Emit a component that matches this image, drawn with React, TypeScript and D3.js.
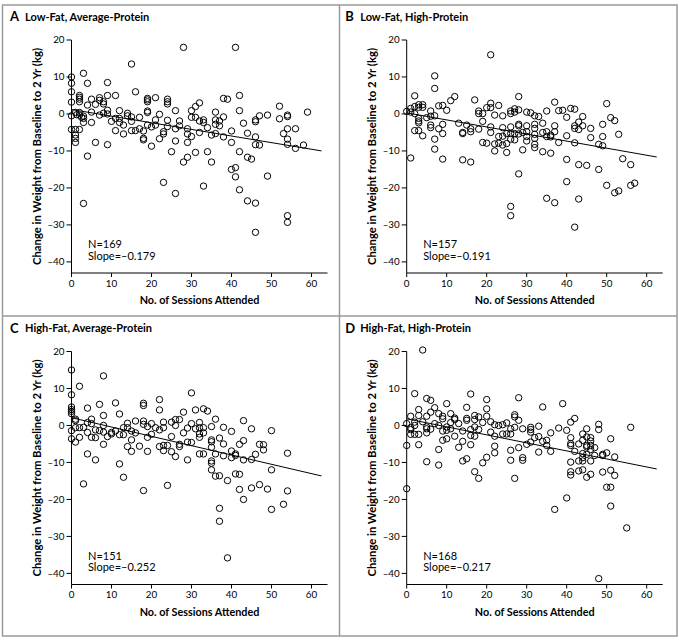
import React from "react";
import * as d3 from "d3";

// ---------- data ----------
const panelLetters = ["A", "B", "C", "D"];
const panelTitles = [
  "Low-Fat, Average-Protein",
  "Low-Fat, High-Protein",
  "High-Fat, Average-Protein",
  "High-Fat, High-Protein",
];
const panelN = [169, 157, 151, 168];
const panelSlopes = [-0.179, -0.191, -0.252, -0.217];
const panelIntercepts = [1.2, 0.3, 2.1, 1.8];
const xTicks = [0, 10, 20, 30, 40, 50, 60];
const yTicks = [20, 10, 0, -10, -20, -30, -40];

const pointsA: [number, number][] = [
  [28,18],[15,13.5],[0,10],[3,11],[0,8.3],[0,6],[4,8.3],[9,8.5],[2,5],[2,4.5],[2,4],[2,3.3],[16,6],[11,5],[5,4],[7,4.4],[7,3.7],[8,3.3],[8,2.7],[9,5],[6,2.6],[0,3.2],[19,4.2],[19,3.8],[19,3.3],[21,4.4],[24,4],[24,3.3],[24,2.7],[19,0.8],[19,0.4],[26,0.9],[30,0.9],[30,-0.9],[0,-0.5],[1,0.4],[1.3,-0.2],[2,0.4],[2,-0.3],[2.5,-0.9],[3,-0.6],[3,-1.2],[3,-2.3],[5,-2.3],[7,-0.3],[8,0.2],[9,1],[9,0],[12,0.9],[12,-1.2],[12,-2.3],[11,-4.5],[13,-5.4],[14,0.2],[15,-0.8],[15,-2],[15,-4.5],[16,-4.5],[17,-0.9],[17,-4],[18,-4.6],[18,-6.6],[18,-7],[19,-3],[20,-8.7],[22,-0.1],[21,-1.6],[21,-3],[22,-6.7],[23,-4.8],[23,-5.4],[24,-1.7],[24,-3.4],[27,-1.9],[27,-3.2],[25,-10.2],[26,-7.3],[29,-4],[29,-5.4],[29,-7.7],[29,-11.7],[28,-13],[31,-10.4],[32,-5],[31,2],[32,3],[31,-0.9],[0,-4.2],[1,-4.2],[2,-4.2],[1,-5.7],[1,-6.6],[1,-7.7],[6,-7.7],[9,-8.3],[4,-11.4],[23,-18.5],[26,-21.5],[3,-24.2],[11,-1.2],[13,-3],[14,-0.5],[4,2.4],[10,-2],[5,0.5],[20,-3.5],[26,-4],
  [41,18],[42,5],[38,4.2],[39,4],[52,2.1],[42,0.9],[36,0.5],[59,0.5],[32,-1.9],[33,-1.6],[33,-2.3],[38,-0.8],[37,-1.9],[36,-1.6],[36,-2.8],[37,-3.2],[34,-3.7],[47,-0.5],[46,-1.6],[46,-2.1],[49,-0.3],[54,-0.3],[54,-0.7],[52,-1.3],[43,-2.5],[54,-4],[56,-4],[40,-4.6],[35,-5.7],[36,-5.3],[44,-5.2],[53,-5.3],[38,-6.2],[46,-6.2],[54,-6.8],[30,-6.1],[40,-7.7],[46,-8.3],[47,-8.4],[54,-8.2],[58,-8.4],[56,-9.3],[34,-10.2],[42,-10.2],[35,-13],[44,-11.7],[45,-12.2],[40,-15],[41,-14.5],[41,-17],[49,-16.8],[33,-19.5],[42,-20.5],[44,-23.5],[46,-24.1],[54,-27.5],[54,-29.3],[46,-32],
];

const pointsB: [number, number][] = [
  [21,16],[7,10.3],[7,6.9],[2,4.9],[12,4.7],[11,3.6],[17,3.8],[21,2.9],[23,2.3],[28,4.7],[1,1.5],[2,2],[3,2.5],[4,2.5],[4,1.8],[3,1.8],[8,2.2],[9,2.3],[20,1.7],[21,1.7],[18,0.8],[18,0.1],[19,0.1],[22,-0.3],[24,-0.5],[26,0.8],[27,1.4],[27,0.5],[26,0.1],[28,1.1],[0,0.7],[1,0.5],[2,0.1],[3,-1.2],[3,-1.9],[3,-2.4],[6,0.8],[6,-0.6],[7,-0.5],[6,-3],[6,-3.7],[9,-2.8],[9,-5.3],[2,-4.5],[3,-4.5],[4,-5.9],[7,-6.8],[7,-9.5],[1,-11.9],[9,-12.2],[14,-12.4],[16,-13],[14,-5],[14,-5.3],[16,-4],[16,-4.8],[18,-4.1],[19,-7.7],[20,-7.9],[21,-3.5],[21,-5],[22,-8.1],[22,-10],[23,-6.1],[23,-7.9],[24,-8.4],[25,-8],[25,-10.4],[24,-3.7],[25,-5.3],[26,-3.5],[26,-5.3],[26,-6.8],[27,-5.3],[28,-2.8],[28,-3.2],[28,-5.4],[29,-5],[29,-9.7],[28,-16.2],[26,-25],[26,-27.5],[5,-1],[13,-2.5],[19,-2],[24,-6],[27,-7],[10,1],[15,-3],[8,-4],
  [37,3.2],[50,2.8],[41,1.5],[42,1.3],[38,0.9],[39,1],[35,0.8],[30,0.5],[31,0.3],[32,-0.5],[33,-0.7],[40,-0.9],[44,-0.7],[51,-1],[52,-1.8],[43,-2.2],[42,-3.2],[42,-3.9],[43,-4.2],[44,-3.2],[37,-3.2],[37,-4.8],[34,-2.5],[32,-2.8],[32,-3.9],[30,-3.2],[30,-4.8],[49,-2.8],[46,-3.9],[34,-5],[35,-4.8],[35,-6.1],[36,-5.7],[36,-6.2],[32,-5.5],[32,-6.6],[32,-8.2],[32,-9.1],[30,-6.1],[30,-7.3],[40,-5.9],[53,-5.5],[49,-6.1],[46,-6.4],[38,-7.7],[42,-7.8],[48,-8.2],[49,-8.6],[34,-10.2],[36,-10.6],[40,-12.3],[54,-12.1],[43,-13.7],[45,-13.9],[48,-15],[56,-13.7],[40,-18.3],[50,-19.3],[52,-21.3],[53,-20.8],[56,-19.3],[57,-18.7],[35,-22.8],[37,-24],[43,-23],[42,-30.6],
];

const pointsC: [number, number][] = [
  [0,15],[8,13.4],[0,8.3],[2,10.6],[0,5],[0,4.3],[0,3.8],[0,3.2],[4,4.7],[7,5.7],[11,6.1],[8,2.7],[12,3.1],[18,6],[18,5.4],[22,7],[22,4.2],[30,8.8],[31,4.2],[28,3.6],[1,1.7],[1,1.3],[2,-0.6],[0,-1.4],[0,-3.6],[1,-0.6],[1,-4.5],[2,-3.2],[4,0.8],[4,-1.9],[5,1.7],[5,0.5],[5,-3.2],[6,-1.2],[6,-3.3],[7,-1.4],[8,-1.8],[8,0],[8,-5.1],[10,-1.9],[10,-2.3],[11,-1.5],[12,-2.5],[13,-2.5],[13,-0.6],[14,0.6],[14,-0.6],[15,-1.5],[15,-3.9],[14,-5.7],[15,-7],[16,1.2],[17,-5.6],[18,1.2],[18,0.3],[19,-0.3],[19,-3.2],[19,-7],[20,-2.4],[21,-0.6],[22,-1.2],[23,0.9],[23,-0.6],[22,-5.7],[23,-5.4],[23,-6.8],[24,-5.4],[25,0.9],[26,1.6],[26,0],[27,1.6],[25,-3],[25,-7.1],[26,-8.4],[27,-5.1],[27,-5.7],[29,-0.7],[29,-4.5],[29,-9.3],[4,-7.7],[6,-9.3],[12,-10.4],[13,-14],[3,-15.8],[18,-17.6],[24,-16.2],[3,-0.5],[9,-3],[16,-2],[20,0.5],[28,-2],
  [33,4.5],[34,3.9],[30,0.5],[32,0.8],[33,-0.6],[32,-0.6],[31,-0.9],[32,-2.3],[32,-3.2],[33,-2],[36,1.7],[35,-0.3],[43,1.3],[45,-0.9],[50,-1.4],[38,-0.5],[40,-1.6],[30,-4.6],[35,-3.9],[35,-4.4],[35,-5.9],[37,-3.4],[38,-5],[36,-7.7],[32,-7.7],[33,-7.7],[43,-4.1],[42,-5.1],[47,-5.1],[48,-5.2],[48,-6.6],[54,-7.5],[40,-6.9],[41,-7.7],[41,-8.1],[40,-8.7],[38,-8.2],[43,-9.3],[45,-9.2],[46,-7.8],[35,-9.6],[35,-10.2],[35,-12],[36,-13.7],[37,-13.6],[39,-14.9],[41,-13.1],[42,-13.2],[50,-12],[42,-17.3],[45,-16.9],[47,-16],[49,-17.2],[54,-17.7],[43,-20],[53,-21.3],[50,-22.7],[37,-22.4],[37,-25.9],[39,-35.8],
];

const pointsD: [number, number][] = [
  [4,20.4],[2,8.6],[16,8.5],[20,7],[28,7.5],[5,7.3],[6,6.8],[7,4.8],[10,5.9],[3,4.3],[6,3.6],[15,4.9],[20,4.5],[0,0.5],[1,2.5],[1,-0.6],[1,-1.1],[1,-2.4],[2,0.9],[2,0],[2,-2.4],[3,2.7],[3,-2.4],[5,2.5],[5,-0.4],[5,-0.9],[5,-2],[8,3.2],[8,0],[9,2.5],[9,1.8],[9,-1.5],[10,-0.4],[10,-1.3],[11,3.2],[11,0.8],[11,-0.9],[12,2],[12,1.6],[12,-2.9],[10,-3.6],[8,-6.5],[5,-9.8],[8,-10.7],[13,-5.9],[14,-4.3],[15,1.9],[15,1.4],[16,-1.1],[16,-2.7],[16,-5.2],[15,-9],[14,-9.6],[17,2.7],[17,1.6],[17,-0.4],[18,2.3],[18,-1.1],[17,-2.9],[17,-12.5],[18,-14.3],[19,-10.1],[20,-8.6],[20,2.5],[21,-1.8],[22,0.2],[22,-2.9],[22,-5.6],[22,-7.4],[23,0],[24,-2.3],[25,0.7],[25,-2.3],[26,-0.9],[26,-2.3],[26,-6.7],[26,-9.4],[27,2.9],[27,2.3],[27,-0.5],[27,-14.3],[28,1.4],[28,-6],[29,-0.9],[29,-8.7],[29,-9.4],[30,-5.1],[31,-0.5],[31,-1.1],[31,-4.5],[0,-5.4],[3,-5.2],[0,-17.1],[4,1],[6,-1],[7,0.5],[13,0.5],[14,-1.5],[19,0.8],[21,1],[24,0.2],[9,-4],
  [34,5],[39,5.9],[42,1.9],[41,0.9],[48,0.3],[48,-1.1],[56,-0.5],[33,-0.2],[38,-0.7],[40,-1.3],[45,-0.9],[44,-2.3],[45,-3.1],[31,-1.8],[32,-3.3],[34,-4.3],[35,-4],[35,-5.4],[36,-7],[33,-7.2],[41,-3.3],[41,-4.9],[41,-5.4],[46,-3.3],[46,-4.2],[46,-5.4],[46,-6.5],[45,-5.4],[45,-5.8],[51,-3.6],[44,-7.6],[44,-8.7],[44,-9.6],[43,-9.6],[45,-7.8],[47,-8.1],[49,-7.8],[50,-7.4],[49,-8.1],[52,-8.5],[41,-9.9],[46,-9.6],[41,-12.5],[41,-13.4],[43,-12.3],[44,-12],[46,-13.2],[45,-14],[49,-12.6],[51,-12.1],[52,-13.5],[50,-16.7],[51,-16.7],[40,-19.6],[37,-22.7],[51,-21.8],[55,-27.7],[48,-41.4],[43,-5],[47,-6],[44,-4],[42,-7],[33,-3],[36,-2],
];

const panelPoints = [pointsA, pointsB, pointsC, pointsD];

// ---------- layout ----------
const W = 679;
const H = 640;
const FONT = "Lato, 'Open Sans', sans-serif";
const offsets: [number, number][] = [
  [0, 0],
  [335.2, 0],
  [0, 311.5],
  [335.2, 311.5],
];

const fmt = (v: number) => (v < 0 ? "\u2013" + Math.abs(v) : String(v));

function Panel({ idx }: { idx: number }) {
  const [dx, dy] = offsets[idx];
  const x = d3.scaleLinear().domain([0, 64]).range([71.5, 327.5]);
  const y = d3.scaleLinear().domain([-43, 20]).range([273, 40]);
  const pts = panelPoints[idx];
  const slope = panelSlopes[idx];
  const b = panelIntercepts[idx];
  const line = d3
    .line<number>()
    .x((d) => x(d))
    .y((d) => y(b + slope * d));
  const x0 = x(0);
  const yb = y(-43);
  return (
    <g transform={`translate(${dx},${dy})`} fontFamily={FONT}>
      <text x={10} y={21} fontSize={13} fontWeight={700}>
        {panelLetters[idx]}
      </text>
      <text x={25} y={20.5} fontSize={11} fontWeight={700}>
        {panelTitles[idx]}
      </text>
      {/* axes */}
      <line x1={x0} x2={x0} y1={y(20)} y2={yb} stroke="#000" strokeWidth={1} />
      <line x1={x0} x2={x(64)} y1={yb} y2={yb} stroke="#000" strokeWidth={1} />
      {yTicks.map((t) => (
        <g key={"y" + t}>
          <line x1={x0 - 5} x2={x0} y1={y(t)} y2={y(t)} stroke="#000" strokeWidth={1} />
          <text x={x0 - 7} y={y(t) + 3.4} fontSize={9.8} textAnchor="end">
            {fmt(t)}
          </text>
        </g>
      ))}
      {xTicks.map((t) => (
        <g key={"x" + t}>
          <line x1={x(t)} x2={x(t)} y1={yb} y2={yb + 4} stroke="#000" strokeWidth={1} />
          <text x={x(t)} y={yb + 13.5} fontSize={9.8} textAnchor="middle">
            {fmt(t)}
          </text>
        </g>
      ))}
      <text
        x={x(32)}
        y={304}
        fontSize={10.8}
        fontWeight={700}
        textAnchor="middle"
      >
        No. of Sessions Attended
      </text>
      <text
        transform={`translate(41,${(y(20) + yb) / 2}) rotate(-90)`}
        fontSize={11.3}
        fontWeight={700}
        textAnchor="middle"
      >
        Change in Weight from Baseline to 2 Yr (kg)
      </text>
      {/* points */}
      {pts.map((p, i) => (
        <circle
          key={i}
          cx={x(p[0])}
          cy={y(p[1])}
          r={3.2}
          fill="none"
          stroke="#000"
          strokeWidth={1}
        />
      ))}
      <path d={line([0, 62.5]) || ""} fill="none" stroke="#000" strokeWidth={1} />
      <text x={88} y={248} fontSize={11}>
        N={panelN[idx]}
      </text>
      <text x={88} y={259.5} fontSize={11}>
        Slope={fmt(panelSlopes[idx])}
      </text>
    </g>
  );
}

export default function App() {
  return (
    <svg
      width={W}
      height={H}
      style={{ position: "absolute", left: 0, top: 0, background: "#fff" }}
    >
      <rect x={0} y={0} width={W} height={H} fill="#fff" />
      <rect x={2.5} y={5} width={674.5} height={631} fill="none" stroke="#9a9a9a" strokeWidth={1.5} />
      <line x1={339.5} x2={339.5} y1={5} y2={636} stroke="#9a9a9a" strokeWidth={1.5} />
      <line x1={2.5} x2={677} y1={316} y2={316} stroke="#9a9a9a" strokeWidth={1.5} />
      {[0, 1, 2, 3].map((i) => (
        <Panel key={i} idx={i} />
      ))}
    </svg>
  );
}
